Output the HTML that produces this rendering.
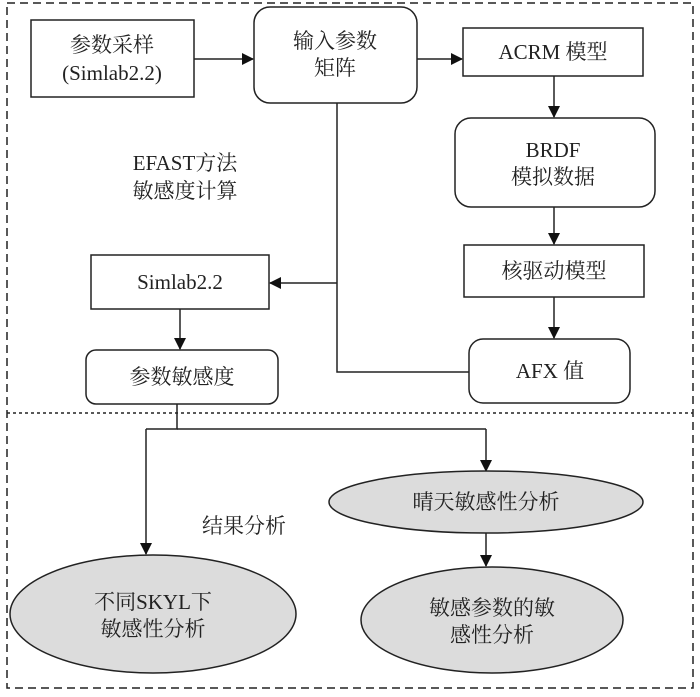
<!DOCTYPE html>
<html><head><meta charset="utf-8"><style>
body{margin:0;background:#fff}
svg text{font-family:"Liberation Serif","Noto Serif CJK SC",serif;font-size:21px;fill:#222;text-anchor:middle;dominant-baseline:central}
</style></head><body>
<svg width="700" height="692" viewBox="0 0 700 692" xmlns="http://www.w3.org/2000/svg">
<defs><marker id="a" markerWidth="12" markerHeight="12" refX="11" refY="6" orient="auto" markerUnits="userSpaceOnUse"><path d="M0,0 L12,6 L0,12 Z" fill="#111"/></marker></defs>
<g fill="none" stroke="#222" stroke-width="1.5">
<path d="M7,3 H693 V688 H7 Z" stroke-dasharray="8,5"/>
<line x1="7" y1="413" x2="693" y2="413" stroke-dasharray="3,3"/>
<rect x="31" y="20" width="163" height="77"/>
<rect x="254" y="7" width="163" height="96" rx="16"/>
<rect x="463" y="28" width="180" height="48"/>
<rect x="455" y="118" width="200" height="89" rx="16"/>
<rect x="464" y="245" width="180" height="52"/>
<rect x="469" y="339" width="161" height="64" rx="14"/>
<rect x="91" y="255" width="178" height="54"/>
<rect x="86" y="350" width="192" height="54" rx="10"/>
<line x1="194" y1="59" x2="253" y2="59" marker-end="url(#a)"/>
<line x1="417" y1="59" x2="462" y2="59" marker-end="url(#a)"/>
<line x1="554" y1="76" x2="554" y2="117" marker-end="url(#a)"/>
<line x1="554" y1="207" x2="554" y2="244" marker-end="url(#a)"/>
<line x1="554" y1="297" x2="554" y2="338" marker-end="url(#a)"/>
<path d="M337,103 V372 H469"/>
<line x1="337" y1="283" x2="270" y2="283" marker-end="url(#a)"/>
<line x1="180" y1="309" x2="180" y2="349" marker-end="url(#a)"/>
<path d="M177,404 V429 H146"/>
<line x1="146" y1="429" x2="146" y2="554" marker-end="url(#a)"/>
<path d="M177,429 H486"/>
<line x1="486" y1="429" x2="486" y2="471" marker-end="url(#a)"/>
<line x1="486" y1="533" x2="486" y2="566" marker-end="url(#a)"/>
<ellipse cx="486" cy="502" rx="157" ry="31" fill="#dcdcdc"/>
<ellipse cx="492" cy="620" rx="131" ry="53" fill="#dcdcdc"/>
<ellipse cx="153" cy="614" rx="143" ry="59" fill="#dcdcdc"/>
</g>
<text x="112" y="45">参数采样</text>
<text x="112" y="73">(Simlab2.2)</text>
<text x="335" y="41">输入参数</text>
<text x="335" y="68">矩阵</text>
<text x="553" y="52">ACRM 模型</text>
<text x="553" y="150">BRDF</text>
<text x="553" y="177">模拟数据</text>
<text x="554" y="271">核驱动模型</text>
<text x="550" y="371">AFX 值</text>
<text x="180" y="282">Simlab2.2</text>
<text x="182" y="377">参数敏感度</text>
<text x="185" y="163">EFAST方法</text>
<text x="185" y="191">敏感度计算</text>
<text x="244" y="526">结果分析</text>
<text x="486" y="502">晴天敏感性分析</text>
<text x="492" y="608">敏感参数的敏</text>
<text x="492" y="635">感性分析</text>
<text x="153" y="602">不同SKYL下</text>
<text x="153" y="629">敏感性分析</text>
</svg>
</body></html>
